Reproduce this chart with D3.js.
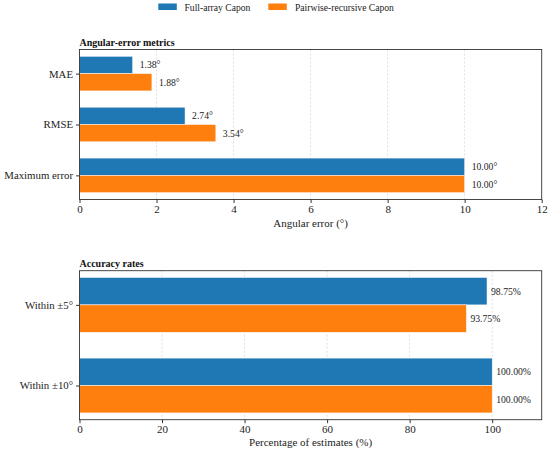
<!DOCTYPE html>
<html>
<head>
<meta charset="utf-8">
<script src="https://cdn.jsdelivr.net/npm/d3@7"></script>
<style>
  body { margin: 0; background: #fff; }
  svg, svg text { font-family: "Liberation Serif", "Times New Roman", Times, serif !important; }
</style>
</head>
<body>
<svg id="chart" width="550" height="451"></svg>
<script>
// data
const seriesNames = ["Full-array Capon", "Pairwise-recursive Capon"]
const seriesColors = ["#1f77b4", "#ff7f0e"]

const errorCategories = ["MAE", "RMSE", "Maximum error"]
const errorFull = [1.38, 2.74, 10.00]
const errorPairwise = [1.88, 3.54, 10.00]
const errorTicks = [0, 2, 4, 6, 8, 10, 12]

const rateCategories = ["Within ±5°", "Within ±10°"]
const rateFull = [98.75, 100.00]
const ratePairwise = [93.75, 100.00]
const rateTicks = [0, 20, 40, 60, 80, 100]

const svg = d3.select("#chart")
const left = 79.5, right = 541.7
const barH = 0.34

// ## legend ##
const legend = svg.append("g")
const legendItems = [{ x: 158.3, tx: 184.5 }, { x: 268.3, tx: 295 }]
seriesNames.forEach((name, i) => {
  legend.append("rect")
    .attr("x", legendItems[i].x).attr("y", 3.5)
    .attr("width", 18.5).attr("height", 6.5)
    .attr("fill", seriesColors[i])
  legend.append("text")
    .attr("x", legendItems[i].tx).attr("y", 7)
    .attr("dominant-baseline", "central")
    .attr("font-size", 9.6).attr("fill", "#222")
    .text(name)
})

const drawPanel = (opts) => {
  const { top, height, categories, full, pairwise, xMax, ticks, title, xLabel, fmt, labelGap, xLabelGap } = opts
  const g = svg.append("g")

  const x = d3.scaleLinear().domain([0, xMax]).range([left, right])
  const n = categories.length
  const pad = (n - 1 + 2 * barH) * 0.05
  const y = d3.scaleLinear()
    .domain([-barH - pad, n - 1 + barH + pad])
    .range([top, top + height])

  // grid
  g.selectAll(".grid").data(ticks.filter(t => t > 0 && t < xMax))
    .enter().append("line")
    .attr("x1", d => x(d)).attr("x2", d => x(d))
    .attr("y1", top).attr("y2", top + height)
    .attr("stroke", "#b0b0b0").attr("stroke-width", 0.6)
    .attr("stroke-dasharray", "2,2").attr("opacity", 0.7)

  const rows = categories.map((c, i) => ({ c, i, vals: [full[i], pairwise[i]] }))
  rows.forEach(row => {
    row.vals.forEach((v, s) => {
      const y0 = y(row.i - barH + s * barH)
      const y1 = y(row.i + s * barH)
      g.append("rect")
        .attr("x", x(0)).attr("y", y0)
        .attr("width", x(v) - x(0)).attr("height", y1 - y0)
        .attr("fill", seriesColors[s])
        .attr("stroke", "#fff").attr("stroke-width", 0.5)
      g.append("text")
        .attr("x", x(v) + labelGap).attr("y", (y0 + y1) / 2)
        .attr("dominant-baseline", "central")
        .attr("font-size", 9.7).attr("fill", "#222")
        .text(fmt(v))
    })
  })

  // frame
  g.append("rect")
    .attr("x", left).attr("y", top)
    .attr("width", right - left).attr("height", height)
    .attr("fill", "none").attr("stroke", "#333").attr("stroke-width", 0.9)

  // x axis
  const xAxis = g.append("g")
    .attr("transform", `translate(0,${top + height})`)
    .call(d3.axisBottom(x).tickValues(ticks).tickFormat(d3.format("d")).tickSize(3.5).tickPadding(2.5))
  xAxis.select(".domain").remove()
  xAxis.selectAll("line").attr("stroke", "#333")
  xAxis.selectAll("text").attr("font-size", 11).attr("fill", "#222")

  // y axis
  const yAxis = g.append("g")
    .attr("transform", `translate(${left},0)`)
    .call(d3.axisLeft(y).tickValues(d3.range(n)).tickFormat(i => categories[i]).tickSize(3.5).tickPadding(3))
  yAxis.select(".domain").remove()
  yAxis.selectAll("line").attr("stroke", "#333")
  yAxis.selectAll("text").attr("font-size", 10.8).attr("fill", "#222")

  g.append("text")
    .attr("x", left).attr("y", top - 4)
    .attr("font-size", 10).attr("font-weight", "bold").attr("fill", "#111")
    .text(title)

  g.append("text")
    .attr("x", (left + right) / 2).attr("y", top + height + xLabelGap)
    .attr("text-anchor", "middle").attr("dominant-baseline", "central")
    .attr("font-size", 11).attr("fill", "#222")
    .text(xLabel)
}

drawPanel({
  top: 49.5, height: 150, categories: errorCategories,
  full: errorFull, pairwise: errorPairwise, xMax: 12, ticks: errorTicks,
  title: "Angular-error metrics", xLabel: "Angular error (°)",
  fmt: v => v.toFixed(2) + "°", labelGap: 7, xLabelGap: 23.8
})

drawPanel({
  top: 270.7, height: 149, categories: rateCategories,
  full: rateFull, pairwise: ratePairwise, xMax: 112, ticks: rateTicks,
  title: "Accuracy rates", xLabel: "Percentage of estimates (%)",
  fmt: v => v.toFixed(2) + "%", labelGap: 4, xLabelGap: 22.6
})
</script>
</body>
</html>
